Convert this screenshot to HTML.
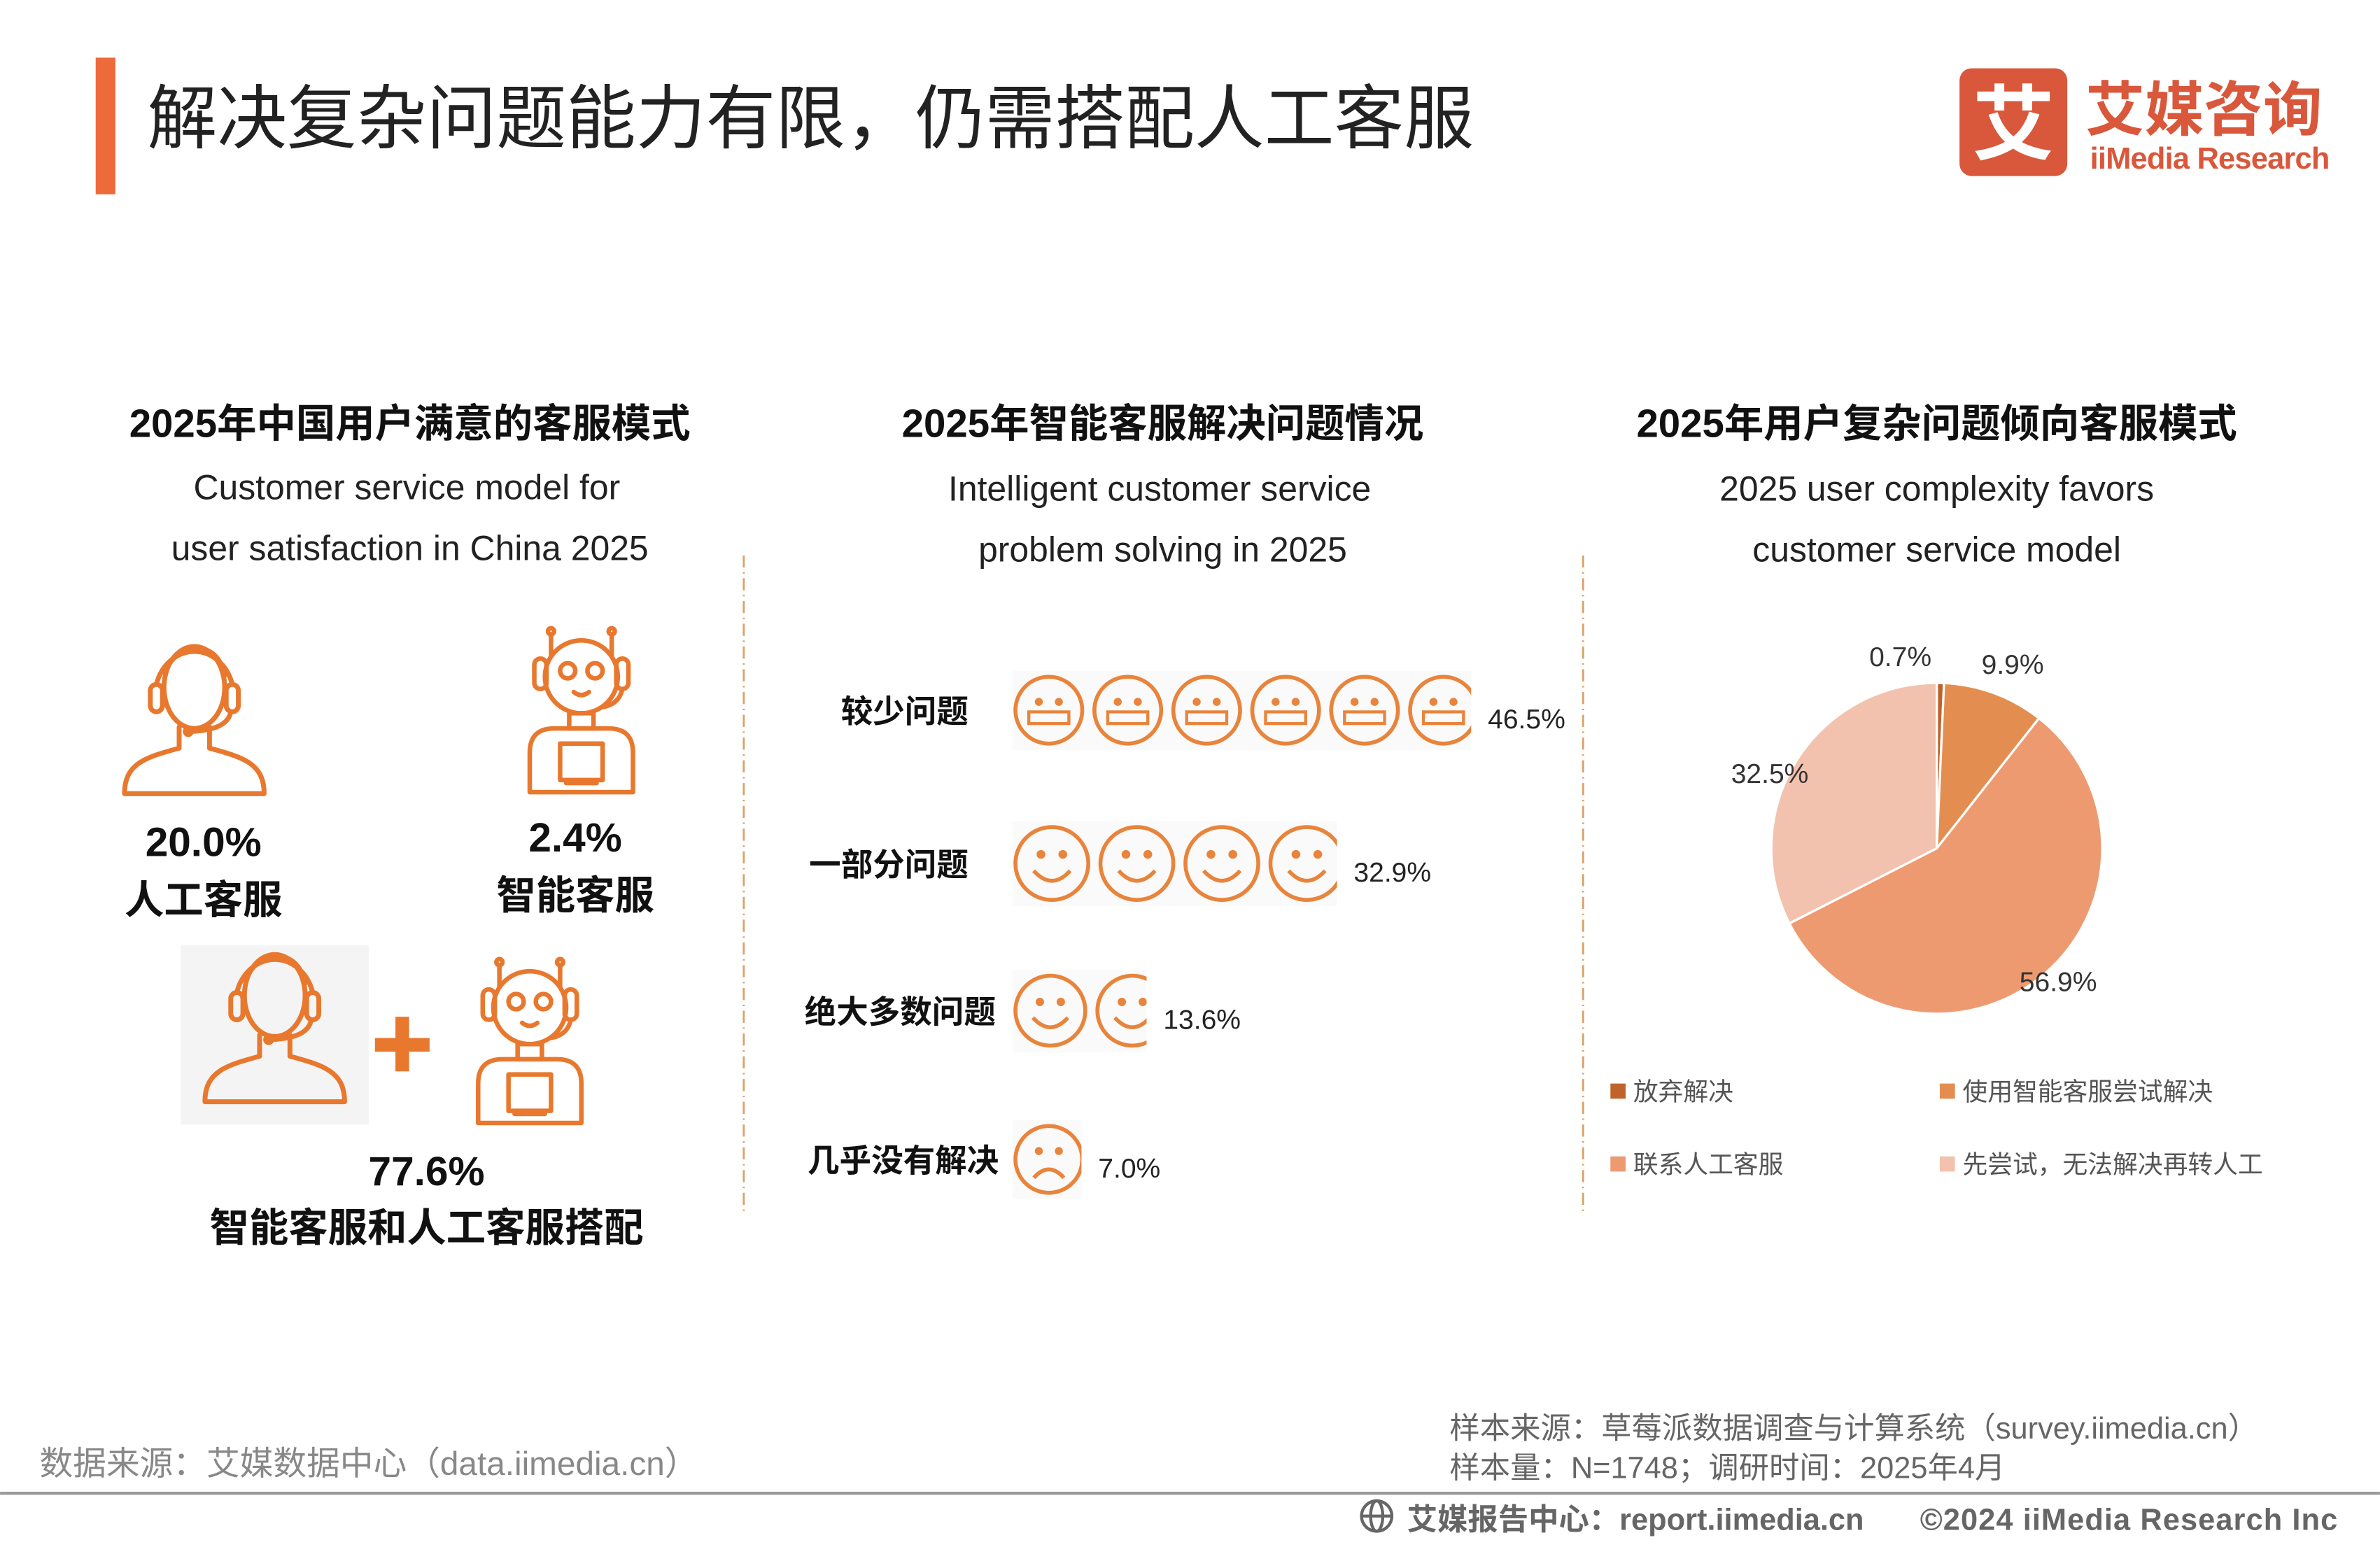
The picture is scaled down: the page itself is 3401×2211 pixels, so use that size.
<!DOCTYPE html>
<html><head><meta charset="utf-8">
<style>
html,body{margin:0;padding:0;background:#fff;}
svg{display:block;}
text{font-family:"Liberation Sans","Noto Sans CJK SC",sans-serif;}
</style></head>
<body>
<svg id="root" width="3401" height="2211" viewBox="0 0 1568 1019.4" xmlns="http://www.w3.org/2000/svg">
<defs>
  <g id="person" fill="none" stroke="#E8782E" stroke-width="3.2" stroke-linejoin="round" stroke-linecap="round">
    <ellipse cx="0" cy="-20" rx="20" ry="27"/>
    <path d="M-20,-30 Q-12,-45 0,-46 Q16,-46 20,-28"/>
    <path d="M-25,-22 A26,30 0 0 1 25,-22"/>
    <rect x="-29" y="-22" width="8" height="18" rx="4"/>
    <rect x="21" y="-22" width="8" height="18" rx="4"/>
    <path d="M24,-4 Q22,8 -2,9"/>
    <circle cx="-4" cy="9" r="2" fill="#E8782E"/>
    <path d="M-10,6 L-10,20 M10,6 L10,20"/>
    <path d="M-10,20 C-32,26 -46,30 -46,50 L46,50 C46,30 32,26 10,20"/>
  </g>
  <g id="robot" fill="none" stroke="#E8782E" stroke-width="3" stroke-linejoin="round" stroke-linecap="round">
    <circle cx="0" cy="-26" r="24"/>
    <circle cx="-9" cy="-30" r="5"/>
    <circle cx="9" cy="-30" r="5"/>
    <path d="M-5,-16 Q0,-12 5,-16"/>
    <path d="M-20,-40 L-20,-54 M20,-40 L20,-54"/>
    <circle cx="-20" cy="-56" r="2"/>
    <circle cx="20" cy="-56" r="2"/>
    <rect x="-31" y="-38" width="8" height="20" rx="4"/>
    <rect x="23" y="-38" width="8" height="20" rx="4"/>
    <path d="M27,-18 Q25,-8 14,-6"/>
    <rect x="-8" y="-2" width="16" height="10"/>
    <path d="M-34,50 L-34,24 Q-34,8 -18,8 L18,8 Q34,8 34,24 L34,50 Z"/>
    <rect x="-14" y="18" width="28" height="24"/>
    <path d="M-10,44 L10,44"/>
  </g>
</defs>

<!-- header -->
<rect x="63" y="38" width="13" height="90" fill="#EE6A3A"/>
<text x="97" y="94" font-size="46" fill="#222">解决复杂问题能力有限，仍需搭配人工客服</text>
<g>
  <rect x="1291" y="45" width="71" height="71" rx="8" fill="#D9573B"/>
  <text x="1326.5" y="101" font-size="54" font-weight="bold" fill="#fff" text-anchor="middle">艾</text>
  <text x="1374" y="86" font-size="39" font-weight="bold" fill="#D9573B">艾媒咨询</text>
  <text x="1377" y="111" font-size="20" font-weight="bold" fill="#D9573B" textLength="158">iiMedia Research</text>
</g>

<!-- section titles -->
<g font-size="26" font-weight="bold" fill="#111" text-anchor="middle">
  <text x="270" y="288">2025年中国用户满意的客服模式</text>
  <text x="766" y="288">2025年智能客服解决问题情况</text>
  <text x="1276" y="288">2025年用户复杂问题倾向客服模式</text>
</g>
<g font-size="23" fill="#222" text-anchor="middle">
  <text x="268" y="329">Customer service model for</text>
  <text x="270" y="369">user satisfaction in China 2025</text>
  <text x="764" y="330">Intelligent customer service</text>
  <text x="766" y="370">problem solving in 2025</text>
  <text x="1276" y="330">2025 user complexity favors</text>
  <text x="1276" y="370">customer service model</text>
</g>
<line x1="490" y1="366" x2="490" y2="800" stroke="#D9A36A" stroke-width="1.3" stroke-dasharray="8,3,1,3"/>
<line x1="1043" y1="366" x2="1043" y2="800" stroke="#D9A36A" stroke-width="1.3" stroke-dasharray="8,3,1,3"/>

<!-- left panel -->
<use href="#person" x="128" y="473"/>
<use href="#robot" x="383" y="472"/>
<text x="134" y="564" font-size="27" font-weight="bold" fill="#111" text-anchor="middle">20.0%</text>
<text x="134" y="602" font-size="26" font-weight="bold" fill="#111" text-anchor="middle">人工客服</text>
<text x="379" y="561" font-size="27" font-weight="bold" fill="#111" text-anchor="middle">2.4%</text>
<text x="379" y="599" font-size="26" font-weight="bold" fill="#111" text-anchor="middle">智能客服</text>
<rect x="119" y="623" width="124" height="118" fill="#F4F4F4"/>
<use href="#person" x="181" y="676"/>
<g fill="#E8782E">
  <rect x="247" y="684" width="36" height="9"/>
  <rect x="260.5" y="670" width="9" height="36"/>
</g>
<use href="#robot" x="349" y="690"/>
<text x="281" y="781" font-size="27" font-weight="bold" fill="#111" text-anchor="middle">77.6%</text>
<text x="281" y="818" font-size="26" font-weight="bold" fill="#111" text-anchor="middle">智能客服和人工客服搭配</text>

<!-- middle panel -->
<g id="faces"></g>

<!-- right panel -->
<g id="pie"></g>
<g id="legend"></g>

<!-- footer -->
<text x="955" y="948" font-size="20" fill="#666">样本来源：草莓派数据调查与计算系统（survey.iimedia.cn）</text>
<text x="955" y="974" font-size="20" fill="#666">样本量：N=1748；调研时间：2025年4月</text>
<text x="26" y="972" font-size="22" fill="#888">数据来源：艾媒数据中心（data.iimedia.cn）</text>
<line x1="0" y1="984" x2="1568" y2="984" stroke="#999" stroke-width="2"/>
<g fill="none" stroke="#666" stroke-width="2">
  <circle cx="907" cy="999" r="10"/>
  <ellipse cx="907" cy="999" rx="4" ry="10"/>
  <line x1="897" y1="999" x2="917" y2="999"/>
</g>
<text x="927" y="1008" font-size="20" font-weight="bold" fill="#666">艾媒报告中心：report.iimedia.cn</text>
<text x="1265" y="1008" font-size="20" font-weight="bold" fill="#666" textLength="275">©2024  iiMedia Research  Inc</text>
</svg>
<script>
const NS = "http://www.w3.org/2000/svg";
// middle chart data
const rowLabels = ["较少问题", "一部分问题", "绝大多数问题", "几乎没有解决"];
const rowValues = [46.5, 32.9, 13.6, 7.0];
const rowValueLabels = ["46.5%", "32.9%", "13.6%", "7.0%"];
const rowFaces = ["neutral", "smile", "smile", "sad"];
// pie data
const pieCategories = ["放弃解决", "使用智能客服尝试解决", "联系人工客服", "先尝试，无法解决再转人工"];
const pieValues = [0.7, 9.9, 56.9, 32.5];
const pieValueLabels = ["0.7%", "9.9%", "56.9%", "32.5%"];
const pieColors = ["#C0622B", "#E38E50", "#EE9A70", "#F3C2AE"];

function mk(tag, attrs, parent) {
  const e = document.createElementNS(NS, tag);
  for (const k in attrs) e.setAttribute(k, attrs[k]);
  if (parent) parent.appendChild(e);
  return e;
}

// face rows
const facesG = document.getElementById('faces');
const x0 = 667, pxPerPct = 6.5;
const rowY = [468, 569, 666, 764];
const rowFaceR = [22, 24, 23, 22];
const rowLabelEnd = [638, 638, 656, 658];
const xScale = v => x0 + v * pxPerPct;
rowValues.forEach((v, i) => {
  const cy = rowY[i], r = rowFaceR[i];
  const g = mk('g', {}, facesG);
  
  
  const lbl = mk('text', {x: rowLabelEnd[i], y: cy + 8, 'font-size': 21, 'font-weight': 'bold', fill: '#111', 'text-anchor': 'end'}, g);
  lbl.textContent = rowLabels[i];
  
  
  const xEnd = xScale(v);
  const bg = mk('rect', {x: x0, y: cy - r - 4, width: xEnd - x0, height: 2 * r + 8, fill: '#FAFAFA'}, g);
  
  
  const cid = 'clip' + i;
  const cp = mk('clipPath', {id: cid}, g);
  mk('rect', {x: x0, y: cy - r - 5, width: xEnd - x0, height: 2 * r + 10}, cp);
  const fg = mk('g', {'clip-path': 'url(#' + cid + ')', fill: 'none', stroke: '#E8843C', 'stroke-width': 2.6}, g);
  const step = 2 * r + 8;
  for (let cx = x0 + r + 2; cx - r < xEnd; cx += step) {
    const f = mk('g', {}, fg);
    
    
    mk('circle', {cx: cx, cy: cy, r: r}, f);
    mk('circle', {cx: cx - r * 0.3, cy: cy - r * 0.25, r: r * 0.12, fill: '#E8843C', stroke: 'none'}, f);
    mk('circle', {cx: cx + r * 0.3, cy: cy - r * 0.25, r: r * 0.12, fill: '#E8843C', stroke: 'none'}, f);
    if (rowFaces[i] === 'neutral') {
      mk('rect', {x: cx - r * 0.6, y: cy + r * 0.05, width: r * 1.2, height: r * 0.35, 'stroke-width': 2}, f);
    } else if (rowFaces[i] === 'smile') {
      mk('path', {d: `M${cx - r * 0.5},${cy + r * 0.2} Q${cx},${cy + r * 0.75} ${cx + r * 0.5},${cy + r * 0.2}`}, f);
    } else {
      mk('path', {d: `M${cx - r * 0.45},${cy + r * 0.55} Q${cx},${cy + r * 0.05} ${cx + r * 0.45},${cy + r * 0.55}`}, f);
    }
  }
  const vt = mk('text', {x: xEnd + 11, y: cy + 12, 'font-size': 18, fill: '#222'}, g);
  vt.textContent = rowValueLabels[i];
  
  
});

// pie
const pieG = document.getElementById('pie');
const pcx = 1276, pcy = 559, pr = 109;
const total = pieValues.reduce((a, b) => a + b, 0);
const angle = v => v / total * Math.PI * 2;
let a0 = 0;
const labelPos = [[1252, 439], [1326, 444], [1356, 653], [1166, 516]];
pieValues.forEach((v, i) => {
  const a1 = a0 + angle(v);
  const p = (a) => [pcx + pr * Math.sin(a), pcy - pr * Math.cos(a)];
  const s = p(a0), e = p(a1);
  const large = (a1 - a0) > Math.PI ? 1 : 0;
  const path = mk('path', {d: `M${pcx},${pcy} L${s[0]},${s[1]} A${pr},${pr} 0 ${large} 1 ${e[0]},${e[1]} Z`, fill: pieColors[i], stroke: '#fff', 'stroke-width': 1.5}, pieG);
  
  
  const t = mk('text', {x: labelPos[i][0], y: labelPos[i][1], 'font-size': 18, fill: '#333', 'text-anchor': 'middle'}, pieG);
  t.textContent = pieValueLabels[i];
  
  
  a0 = a1;
});

// legend
const legG = document.getElementById('legend');
const legPos = [[1061, 719], [1278, 719], [1061, 767], [1278, 767]];
pieCategories.forEach((c, i) => {
  const g = mk('g', {}, legG);
  
  
  mk('rect', {x: legPos[i][0], y: legPos[i][1] - 5, width: 10, height: 10, fill: pieColors[i]}, g);
  const t = mk('text', {x: legPos[i][0] + 15, y: legPos[i][1] + 6, 'font-size': 16.5, fill: '#555'}, g);
  t.textContent = c;
});
</script>
</body></html>
